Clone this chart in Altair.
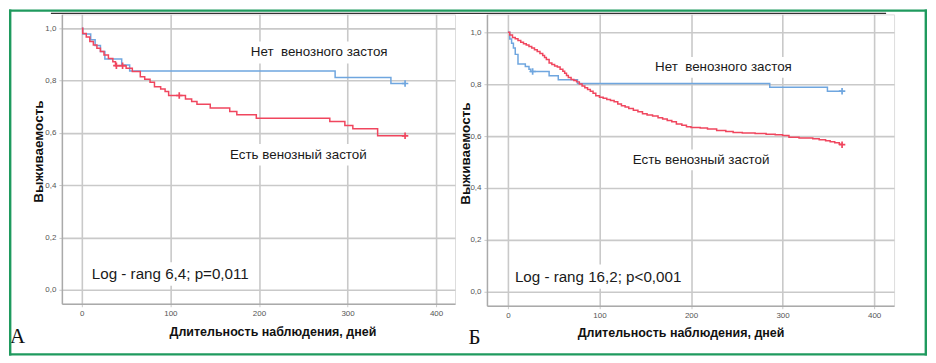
import altair as alt
import pandas as pd

# ---------------- data ----------------
SER_NO = "Нет венозного застоя"
SER_YES = "Есть венозный застой"

# Panel A
a_no_days = [0, 1, 10, 15, 21, 26, 45, 54, 286, 349, 365]
a_no_surv = [1.0, 0.978, 0.956, 0.934, 0.911, 0.883, 0.860, 0.837, 0.812, 0.789, 0.789]
a_yes_days = [0, 1, 5, 9, 13, 17, 21, 25, 30, 35, 38, 50, 57, 66, 71, 77, 82, 89, 94, 98,
              117, 124, 130, 145, 167, 175, 197, 280, 297, 306, 334, 365]
a_yes_surv = [1.0, 0.980, 0.967, 0.950, 0.936, 0.924, 0.911, 0.898, 0.885, 0.872, 0.857,
              0.847, 0.835, 0.815, 0.805, 0.794, 0.777, 0.768, 0.758, 0.743,
              0.730, 0.720, 0.710, 0.695, 0.682, 0.669, 0.656, 0.644, 0.628, 0.616, 0.589, 0.589]
a_cens_no_days = [365]
a_cens_no_surv = [0.789]
a_cens_yes_days = [39, 46, 110, 365]
a_cens_yes_surv = [0.857, 0.857, 0.743, 0.589]

# Panel B
b_no_days = [0, 2, 4, 6, 8, 11, 19, 23, 25, 45, 55, 76, 286, 349, 365]
b_no_surv = [1.0, 0.974, 0.958, 0.940, 0.915, 0.878, 0.868, 0.858, 0.849, 0.833, 0.817,
             0.803, 0.788, 0.773, 0.773]
b_yes_days = [0, 2, 5, 8, 11, 14, 17, 20, 23, 26, 29, 32, 35, 38, 40, 42, 45, 48, 51, 54,
              57, 60, 62, 64, 66, 69, 72, 75, 78, 81, 84, 87, 90, 93, 96, 100, 104, 108,
              112, 116, 120, 124, 128, 132, 137, 142, 147, 152, 158, 164, 169, 174, 179,
              184, 190, 195, 200, 210, 218, 228, 238, 246, 256, 270, 282, 292, 300, 307,
              318, 333, 340, 347, 352, 357, 362, 365]
b_yes_surv = [1.0, 0.990, 0.980, 0.975, 0.968, 0.962, 0.956, 0.951, 0.945, 0.940, 0.933,
              0.926, 0.918, 0.911, 0.903, 0.895, 0.882, 0.876, 0.870, 0.866, 0.858, 0.850,
              0.842, 0.834, 0.826, 0.818, 0.814, 0.809, 0.801, 0.793, 0.786, 0.780, 0.773,
              0.765, 0.756, 0.750, 0.746, 0.741, 0.737, 0.732, 0.724, 0.717, 0.712, 0.706,
              0.700, 0.694, 0.686, 0.681, 0.677, 0.671, 0.666, 0.660, 0.655, 0.647, 0.642,
              0.636, 0.633, 0.631, 0.627, 0.622, 0.618, 0.614, 0.612, 0.610, 0.607, 0.605,
              0.602, 0.596, 0.593, 0.590, 0.586, 0.582, 0.578, 0.574, 0.569, 0.567]
b_cens_no_days = [27, 365]
b_cens_no_surv = [0.849, 0.773]
b_cens_yes_days = [365]
b_cens_yes_surv = [0.567]

# annotations
a_labels = ["Нет\u00a0 венозного застоя", "Есть венозный застой", "Log - rang 6,4; p=0,011"]
a_lab_x = [268, 244.5, 11.3]
a_lab_y = [0.908, 0.515, 0.061]
a_lab_size = [13.4, 13.4, 15.2]
a_lab_align = ["center", "center", "left"]
a_box = [(195, 341, 0.865, 0.950), (172, 317, 0.475, 0.558), (8, 179, 0.015, 0.105)]

b_labels = ["Нет\u00a0 венозного застоя", "Есть венозный застой", "Log - rang 16,2; p<0,001"]
b_lab_x = [235.4, 211, 7.6]
b_lab_y = [0.865, 0.508, 0.058]
b_lab_size = [13.4, 13.4, 15.2]
b_lab_align = ["center", "center", "left"]
b_box = [(164, 307, 0.825, 0.905), (140, 282, 0.468, 0.548), (4, 175, 0.012, 0.105)]

BLUE = "#6fa6df"
BLUE_D = "#3d7fd0"
RED = "#f0465e"
RED_D = "#e8263f"
GRID = "#c9c9c9"
FRAME = "#1f9a5e"
SANS = "Liberation Sans, Arial, sans-serif"

PLUS = "M-1,0L1,0M0,-1L0,1"

label_expr = "replace(format(datum.value, '.1f'), '.', ',')"


def panel(no_d, no_s, yes_d, yes_s, cno_d, cno_s, cyes_d, cyes_s,
          labels, lx, ly, lsize, lalign, boxes,
          width, height, xdom, ydom, ytx, yty, xtx, xty, letter, letter_x, letter_y,
          extra=None):
    curves = pd.DataFrame(
        {"day": no_d + yes_d,
         "surv": no_s + yes_s,
         "grp": [SER_NO] * len(no_d) + [SER_YES] * len(yes_d)})
    cens = pd.DataFrame(
        {"day": cno_d + cyes_d,
         "surv": cno_s + cyes_s,
         "grp": [SER_NO] * len(cno_d) + [SER_YES] * len(cyes_d)})
    labs = pd.DataFrame({"t": labels, "x": lx, "y": ly, "s": lsize, "a": lalign})
    bx = pd.DataFrame({"x1": [b[0] for b in boxes], "x2": [b[1] for b in boxes],
                       "y1": [b[2] for b in boxes], "y2": [b[3] for b in boxes]})

    xsc = alt.Scale(domain=xdom, nice=False, zero=False)
    ysc = alt.Scale(domain=ydom, nice=False, zero=False)
    xax = alt.Axis(values=[0, 100, 200, 300, 400], format="d",
                   title="Длительность наблюдения, дней",
                   titleX=xtx, titleY=xty, titleBaseline="middle", titleAlign="center",
                   titleFont=SANS, titleFontSize=12.5, titleFontWeight="bold",
                   titleColor="#111",
                   labelFont=SANS, labelFontSize=8, labelColor="#555",
                   labelPadding=3, tickSize=3, tickColor=GRID,
                   domainColor="#aaaaaa", domainWidth=1.5,
                   grid=True, gridColor=GRID, gridWidth=1.6)
    yax = alt.Axis(values=[0, 0.2, 0.4, 0.6, 0.8, 1.0], labelExpr=label_expr,
                   title="Выживаемость",
                   titleX=ytx, titleY=yty, titleAngle=270, titleBaseline="middle",
                   titleAlign="center",
                   titleFont=SANS, titleFontSize=13.5, titleFontWeight="bold",
                   titleColor="#111",
                   labelFont=SANS, labelFontSize=8, labelColor="#555",
                   labelPadding=3, tickSize=3, tickColor=GRID,
                   domainColor="#aaaaaa", domainWidth=1.5,
                   grid=True, gridColor=GRID, gridWidth=1.6)

    color = alt.Color("grp:N", scale=alt.Scale(domain=[SER_NO, SER_YES], range=[BLUE, RED]),
                      legend=None)
    ccolor = alt.Color("grp:N", scale=alt.Scale(domain=[SER_NO, SER_YES], range=[BLUE_D, RED_D]),
                       legend=None)

    base_axes = alt.Chart(curves).mark_line(opacity=0).encode(
        x=alt.X("day:Q", scale=xsc, axis=xax),
        y=alt.Y("surv:Q", scale=ysc, axis=yax))

    boxes_l = alt.Chart(bx).mark_rect(color="white").encode(
        x=alt.X("x1:Q", scale=xsc), x2="x2:Q",
        y=alt.Y("y1:Q", scale=ysc), y2="y2:Q")

    lines = alt.Chart(curves).mark_line(interpolate="step-after", strokeWidth=1.5).encode(
        x=alt.X("day:Q", scale=xsc), y=alt.Y("surv:Q", scale=ysc), color=color,
        detail="grp:N")

    marks = alt.Chart(cens).mark_point(shape=PLUS, size=42, filled=False, strokeWidth=1.7,
                                       opacity=1).encode(
        x=alt.X("day:Q", scale=xsc), y=alt.Y("surv:Q", scale=ysc), color=ccolor)

    texts = []
    for i in range(len(labels)):
        texts.append(
            alt.Chart(labs.iloc[[i]]).mark_text(
                font=SANS, fontSize=lsize[i], align=lalign[i], baseline="middle",
                color="#1a1a1a").encode(
                x=alt.X("x:Q", scale=xsc), y=alt.Y("y:Q", scale=ysc), text="t:N"))

    letter_mark = alt.Chart(pd.DataFrame({"t": [letter]})).mark_text(
        font="Liberation Serif, DejaVu Serif, serif", fontSize=21, align="center",
        baseline="middle", color="#111").encode(
        x=alt.value(letter_x), y=alt.value(letter_y), text="t:N")

    layers = [base_axes, boxes_l, lines, marks] + texts + [letter_mark]
    if extra:
        layers += extra
    return alt.layer(*layers).properties(width=width, height=height)


# decorative frame and top rule (panel A coordinates; plot origin at page 61,13)
frame_df = pd.DataFrame({"k": [0]})
frame = []
for (x1, x2, y1, y2) in [(-53, 867, -5, -2.6), (-53, 867, 339.6, 342),
                          (-53, -50.6, -5, 342), (864.6, 867, -5, 342)]:
    frame.append(alt.Chart(frame_df).mark_rect(color=FRAME).encode(
        x=alt.value(x1), x2=alt.value(x2), y=alt.value(y1), y2=alt.value(y2)))
frame.append(alt.Chart(frame_df).mark_rule(color="#333333", strokeWidth=1.3).encode(
    x=alt.value(-11), x2=alt.value(826), y=alt.value(-1)))

pA = panel(a_no_days, a_no_surv, a_yes_days, a_yes_surv,
           a_cens_no_days, a_cens_no_surv, a_cens_yes_days, a_cens_yes_surv,
           a_labels, a_lab_x, a_lab_y, a_lab_size, a_lab_align, a_box,
           394, 290, [-22.54, 421.4], [-0.0534, 1.0534],
           -23, 137, 211, 28, "А", -44.5, 323, extra=frame)

pB = panel(b_no_days, b_no_surv, b_yes_days, b_yes_surv,
           b_cens_no_days, b_cens_no_surv, b_cens_yes_days, b_cens_yes_surv,
           b_labels, b_lab_x, b_lab_y, b_lab_size, b_lab_align, b_box,
           408, 292, [-22.9, 421.8], [-0.0538, 1.0692],
           -21, 139, 194, 27, "Б", -12.5, 324)

chart = alt.hconcat(pA, pB, spacing=32, bounds="flush").resolve_scale(
    x="independent", y="independent", color="independent"
).properties(padding=0).configure_view(stroke=None).configure(background="white")

chart.save("out.html", embed_options={"renderer": "svg", "actions": False})
